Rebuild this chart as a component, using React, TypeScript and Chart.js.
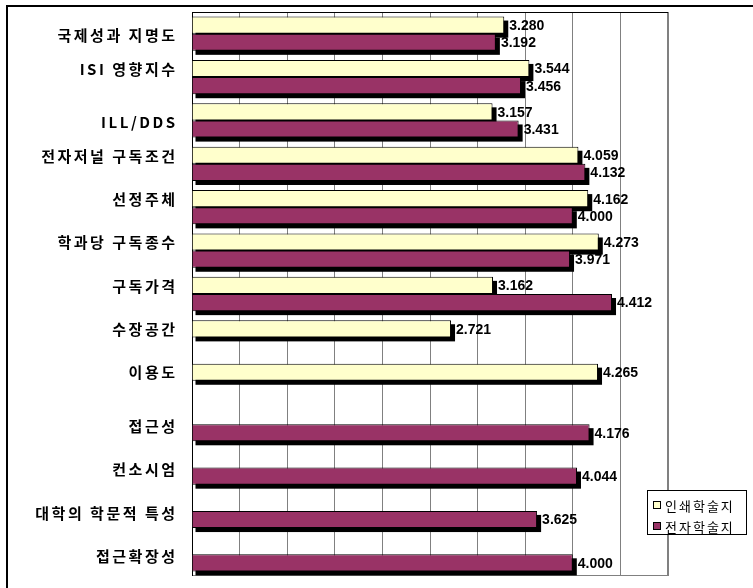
import React, { useEffect, useRef } from 'react';
import { Chart, registerables } from 'chart.js';

Chart.register(...registerables);

// Category labels (a trailing empty line reproduces the wrapped labels of the original)
const categories: (string | string[])[] = [
  '국제성과 지명도',
  ['ISI 영향지수', ''],
  'ILL/DDS',
  ['전자저널 구독조건', ''],
  ['선정주체', ''],
  ['학과당 구독종수', ''],
  ['구독가격', ''],
  ['수장공간', ''],
  ['이용도', ''],
  '접근성',
  '컨소시엄',
  '대학의 학문적 특성',
  '접근확장성',
];

const printValues: (number | null)[] = [3.28, 3.544, 3.157, 4.059, 4.162, 4.273, 3.162, 2.721, 4.265, null, null, null, null];
const electronicValues: (number | null)[] = [3.192, 3.456, 3.431, 4.132, 4.0, 3.971, 4.412, null, null, 4.176, 4.044, 3.625, 4.0];

const seriesNames = ['인쇄학술지', '전자학술지'];
const seriesColors = ['#FFFFCC', '#993366'];

const xMin = 0;
const xMax = 5;
const xStep = 0.5;

const KR = '"Noto Sans CJK KR", "Noto Sans", sans-serif';
const LAT = '"Liberation Sans", Arial, sans-serif';

const decorPlugin = {
  id: 'decor',
  beforeDatasetsDraw(chart: any) {
    const { ctx, chartArea: a } = chart;
    ctx.save();
    ctx.strokeStyle = '#808080';
    ctx.lineWidth = 1;
    ctx.strokeRect(a.left + 0.5, a.top + 0.5, a.right - a.left - 1, a.bottom - a.top - 1);
    ctx.strokeStyle = '#000';
    ctx.beginPath();
    ctx.moveTo(a.left + 0.5, a.top);
    ctx.lineTo(a.left + 0.5, a.bottom);
    ctx.moveTo(a.left, a.top + 0.5);
    ctx.lineTo(a.right, a.top + 0.5);
    ctx.stroke();
    // bar shadows
    ctx.fillStyle = '#000';
    chart.data.datasets.forEach((ds: any, di: number) => {
      const meta = chart.getDatasetMeta(di);
      meta.data.forEach((el: any, i: number) => {
        if (ds.data[i] == null) return;
        const { x, y, base, height } = el.getProps(['x', 'y', 'base', 'height'], true);
        ctx.fillRect(base + 3, y - height / 2 + 4, x - base + 1, height);
      });
    });
    ctx.restore();
  },
  afterDatasetsDraw(chart: any) {
    const { ctx } = chart;
    ctx.save();
    ctx.fillStyle = '#000';
    ctx.font = `bold 14px ${LAT}`;
    ctx.textAlign = 'left';
    ctx.textBaseline = 'middle';
    chart.data.datasets.forEach((ds: any, di: number) => {
      const meta = chart.getDatasetMeta(di);
      meta.data.forEach((el: any, i: number) => {
        const v = ds.data[i];
        if (v == null) return;
        const { x, y } = el.getProps(['x', 'y'], true);
        ctx.fillText(Number(v).toFixed(3), x + 5, y + 1);
      });
    });
    ctx.restore();
  },
  afterDraw(chart: any) {
    const { ctx, chartArea: a } = chart;
    const yScale = chart.scales.y;
    ctx.save();
    // category labels
    ctx.fillStyle = '#000';
    ctx.font = `bold 15px ${KR}`;
    (ctx as any).letterSpacing = '2.5px';
    ctx.textAlign = 'right';
    ctx.textBaseline = 'middle';
    const lineH = 20;
    chart.data.labels.forEach((lab: any, i: number) => {
      const lines = Array.isArray(lab) ? lab : [lab];
      const cy = yScale.getPixelForValue(i) + 2;
      const startY = cy - ((lines.length - 1) * lineH) / 2;
      lines.forEach((ln: string, k: number) => {
        if (ln) ctx.fillText(ln, a.left - 17 + 2.5, startY + k * lineH);
      });
    });
    // legend
    const lx = 647.5, ly = 490.5, lw = 99, lh = 44;
    ctx.fillStyle = '#fff';
    ctx.fillRect(lx, ly, lw, lh);
    ctx.strokeStyle = '#000';
    ctx.lineWidth = 1;
    ctx.strokeRect(lx, ly, lw, lh);
    ctx.font = `13px ${KR}`;
    (ctx as any).letterSpacing = '2px';
    ctx.textAlign = 'left';
    chart.data.datasets.forEach((ds: any, di: number) => {
      const cy = 505 + di * 21;
      ctx.fillStyle = ds.backgroundColor;
      ctx.fillRect(653.5, cy - 3.5, 7, 7);
      ctx.strokeStyle = '#000';
      ctx.strokeRect(653.5, cy - 3.5, 7, 7);
      ctx.fillStyle = '#000';
      ctx.fillText(ds.label, 665, cy + 1);
    });
    // outer frame (top and left edges)
    ctx.fillStyle = '#000';
    ctx.fillRect(6, 5, 760, 2);
    ctx.fillRect(6, 5, 2, 600);
    ctx.restore();
  },
};

export default function App() {
  const ref = useRef<HTMLCanvasElement | null>(null);
  useEffect(() => {
    if (!ref.current) return;
    const chart = new Chart(ref.current, {
      type: 'bar',
      data: {
        labels: categories as any,
        datasets: [
          {
            label: seriesNames[0],
            data: printValues as any,
            backgroundColor: seriesColors[0],
            borderColor: '#000',
            borderWidth: 1,
            categoryPercentage: 0.79,
            barPercentage: 1,
          },
          {
            label: seriesNames[1],
            data: electronicValues as any,
            backgroundColor: seriesColors[1],
            borderColor: '#000',
            borderWidth: 1,
            categoryPercentage: 0.79,
            barPercentage: 1,
          },
        ],
      },
      options: {
        indexAxis: 'y',
        responsive: false,
        animation: false,
        devicePixelRatio: 1,
        layout: { padding: { top: 12, right: 85, bottom: 12, left: 0 } },
        plugins: { legend: { display: false }, tooltip: { enabled: false } },
        scales: {
          x: {
            position: 'top',
            min: xMin,
            max: xMax,
            ticks: { display: false, stepSize: xStep },
            grid: { color: '#808080', drawTicks: false, lineWidth: 1 },
            border: { display: false },
            afterFit: (s: any) => { s.height = 0; },
          },
          y: {
            ticks: { display: false },
            grid: { display: false },
            border: { display: false },
            afterFit: (s: any) => { s.width = 192; },
          },
        },
      } as any,
      plugins: [decorPlugin],
    });
    return () => chart.destroy();
  }, []);
  return (
    <div style={{ position: 'fixed', left: 0, top: 0, width: 753, height: 588, background: '#fff' }}>
      <canvas ref={ref} width={753} height={588} style={{ display: 'block' }} />
    </div>
  );
}
